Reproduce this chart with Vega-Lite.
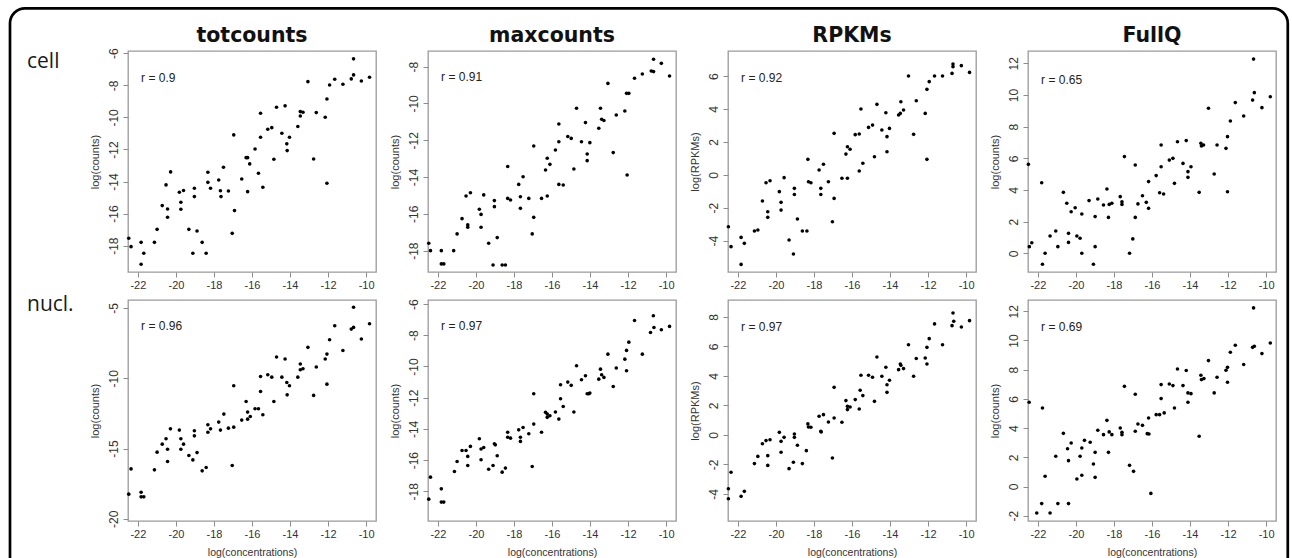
{
"$schema": "https://vega.github.io/schema/vega-lite/v6.json",
"background": "white",
"padding": {"left": 8, "top": 6, "right": 2, "bottom": 0},
"bounds": "flush",
"columns": 5,
"spacing": {"row": 28, "column": 52},
"config": {
 "view": {"stroke": "#9a9a9a", "strokeWidth": 1.3},
 "axis": {"domain": false, "grid": false, "ticks": true, "tickColor": "#8c8c8c", "tickSize": 5, "tickWidth": 1, "tickCount": 20, "labelFont": "Liberation Sans", "labelColor": "#333", "titleFont": "Liberation Sans", "titleFontWeight": "normal", "titleColor": "#333", "labelFlush": false, "labelOverlap": false},
 "axisX": {"labelFontSize": 11, "labelPadding": 2, "titleFontSize": 10.5, "titlePadding": 8, "labelOverlap": false},
 "axisY": {"labelAngle": 270, "labelAlign": "center", "labelBaseline": "bottom", "labelFontSize": 12, "labelPadding": 3, "titleFontSize": 11, "titlePadding": 8, "minExtent": 20, "maxExtent": 20, "labelOverlap": false},
 "title": {"font": "DejaVu Sans", "fontSize": 20.5, "fontWeight": "bold", "color": "#111", "baseline": "alphabetic", "anchor": "middle"}
},
"datasets": {
"pts": [
{"p":1,"x":-22.48,"y":-17.54},{"p":1,"x":-22.36,"y":-18.06},{"p":1,"x":-21.83,"y":-17.79},{"p":1,"x":-21.83,"y":-19.16},{"p":1,"x":-21.69,"y":-18.47},{"p":1,"x":-21.13,"y":-17.79},{"p":1,"x":-20.99,"y":-16.98},{"p":1,"x":-20.72,"y":-15.5},{"p":1,"x":-20.52,"y":-14.21},{"p":1,"x":-20.44,"y":-15.71},{"p":1,"x":-20.44,"y":-16.23},{"p":1,"x":-20.28,"y":-13.4},{"p":1,"x":-19.82,"y":-14.67},{"p":1,"x":-19.74,"y":-15.29},{"p":1,"x":-19.74,"y":-15.73},{"p":1,"x":-19.6,"y":-14.56},{"p":1,"x":-19.32,"y":-16.98},{"p":1,"x":-19.11,"y":-18.47},{"p":1,"x":-19.03,"y":-14.42},{"p":1,"x":-19.03,"y":-14.94},{"p":1,"x":-18.89,"y":-17.08},{"p":1,"x":-18.62,"y":-17.79},{"p":1,"x":-18.41,"y":-18.47},{"p":1,"x":-18.32,"y":-13.42},{"p":1,"x":-18.32,"y":-14.05},{"p":1,"x":-18.18,"y":-14.42},{"p":1,"x":-17.75,"y":-13.9},{"p":1,"x":-17.66,"y":-14.57},{"p":1,"x":-17.63,"y":-14.94},{"p":1,"x":-17.5,"y":-13.11},{"p":1,"x":-17.24,"y":-14.59},{"p":1,"x":-17.04,"y":-17.23},{"p":1,"x":-16.96,"y":-11.09},{"p":1,"x":-16.92,"y":-15.81},{"p":1,"x":-16.54,"y":-13.84},{"p":1,"x":-16.31,"y":-12.51},{"p":1,"x":-16.23,"y":-12.51},{"p":1,"x":-16.23,"y":-14.63},{"p":1,"x":-16.12,"y":-12.9},{"p":1,"x":-15.84,"y":-11.97},{"p":1,"x":-15.66,"y":-13.48},{"p":1,"x":-15.55,"y":-9.74},{"p":1,"x":-15.55,"y":-11.24},{"p":1,"x":-15.43,"y":-14.36},{"p":1,"x":-15.17,"y":-10.74},{"p":1,"x":-14.96,"y":-10.64},{"p":1,"x":-14.85,"y":-12.61},{"p":1,"x":-14.71,"y":-9.37},{"p":1,"x":-14.43,"y":-10.99},{"p":1,"x":-14.26,"y":-9.28},{"p":1,"x":-14.17,"y":-11.65},{"p":1,"x":-14.15,"y":-12.07},{"p":1,"x":-14.03,"y":-11.24},{"p":1,"x":-13.59,"y":-10.57},{"p":1,"x":-13.46,"y":-9.64},{"p":1,"x":-13.46,"y":-9.91},{"p":1,"x":-13.32,"y":-9.68},{"p":1,"x":-13.06,"y":-7.77},{"p":1,"x":-12.76,"y":-12.59},{"p":1,"x":-12.62,"y":-9.7},{"p":1,"x":-12.15,"y":-9.99},{"p":1,"x":-12.06,"y":-8.85},{"p":1,"x":-12.06,"y":-14.11},{"p":1,"x":-11.92,"y":-7.98},{"p":1,"x":-11.65,"y":-7.62},{"p":1,"x":-11.22,"y":-7.93},{"p":1,"x":-10.78,"y":-7.6},{"p":1,"x":-10.66,"y":-7.35},{"p":1,"x":-10.66,"y":-6.35},{"p":1,"x":-10.25,"y":-7.73},{"p":1,"x":-9.82,"y":-7.5},
{"p":2,"x":-22.48,"y":-17.6},{"p":2,"x":-22.39,"y":-18.0},{"p":2,"x":-21.82,"y":-18.0},{"p":2,"x":-21.82,"y":-18.72},{"p":2,"x":-21.69,"y":-18.72},{"p":2,"x":-21.17,"y":-18.0},{"p":2,"x":-20.99,"y":-17.09},{"p":2,"x":-20.73,"y":-16.26},{"p":2,"x":-20.52,"y":-15.03},{"p":2,"x":-20.43,"y":-16.6},{"p":2,"x":-20.43,"y":-16.73},{"p":2,"x":-20.29,"y":-14.85},{"p":2,"x":-19.82,"y":-15.75},{"p":2,"x":-19.73,"y":-16.03},{"p":2,"x":-19.73,"y":-16.73},{"p":2,"x":-19.59,"y":-14.97},{"p":2,"x":-19.33,"y":-17.6},{"p":2,"x":-19.1,"y":-18.78},{"p":2,"x":-19.03,"y":-15.28},{"p":2,"x":-19.03,"y":-15.61},{"p":2,"x":-18.88,"y":-17.29},{"p":2,"x":-18.62,"y":-18.78},{"p":2,"x":-18.45,"y":-18.78},{"p":2,"x":-18.33,"y":-13.43},{"p":2,"x":-18.33,"y":-15.16},{"p":2,"x":-18.18,"y":-15.25},{"p":2,"x":-17.75,"y":-14.4},{"p":2,"x":-17.66,"y":-15.07},{"p":2,"x":-17.66,"y":-15.7},{"p":2,"x":-17.52,"y":-13.98},{"p":2,"x":-17.22,"y":-15.16},{"p":2,"x":-17.04,"y":-17.09},{"p":2,"x":-16.96,"y":-12.31},{"p":2,"x":-16.96,"y":-16.19},{"p":2,"x":-16.55,"y":-15.16},{"p":2,"x":-16.34,"y":-13.62},{"p":2,"x":-16.25,"y":-12.98},{"p":2,"x":-16.25,"y":-15.03},{"p":2,"x":-16.11,"y":-13.31},{"p":2,"x":-15.82,"y":-12.53},{"p":2,"x":-15.64,"y":-11.12},{"p":2,"x":-15.64,"y":-12.08},{"p":2,"x":-15.64,"y":-14.4},{"p":2,"x":-15.41,"y":-14.43},{"p":2,"x":-15.17,"y":-11.8},{"p":2,"x":-14.99,"y":-11.9},{"p":2,"x":-14.85,"y":-13.56},{"p":2,"x":-14.71,"y":-10.26},{"p":2,"x":-14.45,"y":-12.08},{"p":2,"x":-14.24,"y":-11.04},{"p":2,"x":-14.15,"y":-12.75},{"p":2,"x":-14.15,"y":-13.11},{"p":2,"x":-14.01,"y":-12.13},{"p":2,"x":-13.54,"y":-11.35},{"p":2,"x":-13.45,"y":-10.26},{"p":2,"x":-13.39,"y":-10.86},{"p":2,"x":-13.27,"y":-10.93},{"p":2,"x":-13.06,"y":-8.91},{"p":2,"x":-12.78,"y":-12.67},{"p":2,"x":-12.62,"y":-10.63},{"p":2,"x":-12.17,"y":-10.41},{"p":2,"x":-12.08,"y":-9.45},{"p":2,"x":-11.96,"y":-9.45},{"p":2,"x":-12.05,"y":-13.89},{"p":2,"x":-11.66,"y":-8.63},{"p":2,"x":-11.25,"y":-8.4},{"p":2,"x":-10.78,"y":-8.24},{"p":2,"x":-10.66,"y":-8.27},{"p":2,"x":-10.66,"y":-7.6},{"p":2,"x":-10.25,"y":-7.82},{"p":2,"x":-9.82,"y":-8.51},
{"p":3,"x":-22.5,"y":-3.15},{"p":3,"x":-22.36,"y":-4.36},{"p":3,"x":-21.83,"y":-3.8},{"p":3,"x":-21.83,"y":-5.44},{"p":3,"x":-21.66,"y":-4.16},{"p":3,"x":-21.13,"y":-3.41},{"p":3,"x":-20.95,"y":-3.35},{"p":3,"x":-20.71,"y":-1.59},{"p":3,"x":-20.52,"y":-0.48},{"p":3,"x":-20.43,"y":-2.24},{"p":3,"x":-20.43,"y":-2.58},{"p":3,"x":-20.31,"y":-0.36},{"p":3,"x":-19.82,"y":-1.02},{"p":3,"x":-19.73,"y":-1.67},{"p":3,"x":-19.73,"y":-2.14},{"p":3,"x":-19.57,"y":-0.17},{"p":3,"x":-19.31,"y":-3.96},{"p":3,"x":-19.08,"y":-4.81},{"p":3,"x":-19.03,"y":-0.82},{"p":3,"x":-19.03,"y":-1.19},{"p":3,"x":-18.87,"y":-2.68},{"p":3,"x":-18.61,"y":-3.41},{"p":3,"x":-18.37,"y":-3.41},{"p":3,"x":-18.32,"y":0.94},{"p":3,"x":-18.29,"y":-0.42},{"p":3,"x":-18.16,"y":-0.48},{"p":3,"x":-17.73,"y":0.29},{"p":3,"x":-17.64,"y":-0.82},{"p":3,"x":-17.64,"y":-1.19},{"p":3,"x":-17.5,"y":0.64},{"p":3,"x":-17.24,"y":-0.42},{"p":3,"x":-17.03,"y":-2.85},{"p":3,"x":-16.94,"y":2.52},{"p":3,"x":-16.94,"y":-1.43},{"p":3,"x":-16.53,"y":-0.21},{"p":3,"x":-16.32,"y":1.26},{"p":3,"x":-16.24,"y":1.71},{"p":3,"x":-16.24,"y":-0.21},{"p":3,"x":-16.1,"y":1.55},{"p":3,"x":-15.83,"y":2.44},{"p":3,"x":-15.62,"y":2.48},{"p":3,"x":-15.62,"y":0.23},{"p":3,"x":-15.53,"y":4.0},{"p":3,"x":-15.43,"y":0.7},{"p":3,"x":-15.13,"y":2.88},{"p":3,"x":-14.92,"y":3.02},{"p":3,"x":-14.82,"y":1.1},{"p":3,"x":-14.69,"y":4.28},{"p":3,"x":-14.43,"y":2.72},{"p":3,"x":-14.22,"y":3.77},{"p":3,"x":-14.16,"y":2.32},{"p":3,"x":-14.16,"y":1.4},{"p":3,"x":-14.03,"y":2.82},{"p":3,"x":-13.55,"y":3.63},{"p":3,"x":-13.46,"y":3.73},{"p":3,"x":-13.43,"y":4.44},{"p":3,"x":-13.29,"y":3.94},{"p":3,"x":-13.03,"y":6.0},{"p":3,"x":-12.76,"y":2.46},{"p":3,"x":-12.62,"y":4.5},{"p":3,"x":-12.15,"y":3.73},{"p":3,"x":-12.06,"y":5.19},{"p":3,"x":-12.06,"y":0.94},{"p":3,"x":-11.94,"y":5.66},{"p":3,"x":-11.66,"y":6.0},{"p":3,"x":-11.24,"y":6.0},{"p":3,"x":-10.74,"y":6.16},{"p":3,"x":-10.69,"y":6.73},{"p":3,"x":-10.69,"y":6.57},{"p":3,"x":-10.25,"y":6.63},{"p":3,"x":-9.82,"y":6.22},
{"p":4,"x":-22.5,"y":5.62},{"p":4,"x":-22.45,"y":0.42},{"p":4,"x":-22.32,"y":0.67},{"p":4,"x":-21.8,"y":4.46},{"p":4,"x":-21.76,"y":-0.69},{"p":4,"x":-21.62,"y":0.0},{"p":4,"x":-21.36,"y":1.09},{"p":4,"x":-21.06,"y":1.41},{"p":4,"x":-20.95,"y":0.42},{"p":4,"x":-20.66,"y":3.85},{"p":4,"x":-20.48,"y":3.16},{"p":4,"x":-20.39,"y":1.26},{"p":4,"x":-20.39,"y":0.69},{"p":4,"x":-20.25,"y":2.63},{"p":4,"x":-20.04,"y":2.88},{"p":4,"x":-19.95,"y":1.09},{"p":4,"x":-19.78,"y":0.95},{"p":4,"x":-19.69,"y":2.48},{"p":4,"x":-19.69,"y":0.0},{"p":4,"x":-19.31,"y":3.33},{"p":4,"x":-19.08,"y":-0.69},{"p":4,"x":-18.99,"y":2.32},{"p":4,"x":-18.99,"y":0.42},{"p":4,"x":-18.85,"y":3.43},{"p":4,"x":-18.55,"y":3.05},{"p":4,"x":-18.37,"y":4.06},{"p":4,"x":-18.29,"y":2.27},{"p":4,"x":-18.25,"y":3.09},{"p":4,"x":-18.11,"y":3.16},{"p":4,"x":-17.67,"y":3.58},{"p":4,"x":-17.58,"y":3.26},{"p":4,"x":-17.58,"y":3.09},{"p":4,"x":-17.45,"y":6.11},{"p":4,"x":-17.18,"y":0.0},{"p":4,"x":-17.01,"y":0.91},{"p":4,"x":-16.88,"y":5.58},{"p":4,"x":-16.88,"y":2.27},{"p":4,"x":-16.74,"y":3.12},{"p":4,"x":-16.5,"y":3.64},{"p":4,"x":-16.3,"y":3.22},{"p":4,"x":-16.18,"y":2.84},{"p":4,"x":-16.18,"y":4.53},{"p":4,"x":-15.78,"y":4.91},{"p":4,"x":-15.6,"y":3.83},{"p":4,"x":-15.52,"y":5.47},{"p":4,"x":-15.52,"y":6.84},{"p":4,"x":-15.39,"y":3.75},{"p":4,"x":-15.09,"y":5.89},{"p":4,"x":-14.9,"y":6.0},{"p":4,"x":-14.82,"y":4.42},{"p":4,"x":-14.66,"y":7.05},{"p":4,"x":-14.37,"y":5.68},{"p":4,"x":-14.2,"y":7.12},{"p":4,"x":-14.11,"y":5.16},{"p":4,"x":-14.11,"y":4.8},{"p":4,"x":-13.95,"y":5.47},{"p":4,"x":-13.52,"y":3.85},{"p":4,"x":-13.43,"y":6.95},{"p":4,"x":-13.4,"y":6.78},{"p":4,"x":-13.29,"y":6.84},{"p":4,"x":-13.03,"y":9.16},{"p":4,"x":-12.73,"y":5.01},{"p":4,"x":-12.58,"y":6.84},{"p":4,"x":-12.11,"y":6.63},{"p":4,"x":-12.03,"y":7.37},{"p":4,"x":-12.03,"y":3.89},{"p":4,"x":-11.88,"y":8.36},{"p":4,"x":-11.62,"y":9.52},{"p":4,"x":-11.18,"y":8.67},{"p":4,"x":-10.71,"y":9.68},{"p":4,"x":-10.66,"y":12.27},{"p":4,"x":-10.62,"y":10.15},{"p":4,"x":-10.22,"y":9.2},{"p":4,"x":-9.78,"y":9.89},
{"p":5,"x":-22.48,"y":-18.25},{"p":5,"x":-22.36,"y":-16.45},{"p":5,"x":-21.83,"y":-18.11},{"p":5,"x":-21.83,"y":-18.44},{"p":5,"x":-21.69,"y":-18.44},{"p":5,"x":-21.13,"y":-16.52},{"p":5,"x":-20.99,"y":-15.26},{"p":5,"x":-20.72,"y":-14.69},{"p":5,"x":-20.52,"y":-14.31},{"p":5,"x":-20.44,"y":-15.05},{"p":5,"x":-20.44,"y":-15.93},{"p":5,"x":-20.29,"y":-13.6},{"p":5,"x":-19.82,"y":-13.69},{"p":5,"x":-19.74,"y":-14.31},{"p":5,"x":-19.74,"y":-15.05},{"p":5,"x":-19.6,"y":-14.69},{"p":5,"x":-19.32,"y":-15.5},{"p":5,"x":-19.11,"y":-15.81},{"p":5,"x":-19.03,"y":-13.74},{"p":5,"x":-19.03,"y":-14.1},{"p":5,"x":-18.89,"y":-15.29},{"p":5,"x":-18.62,"y":-16.59},{"p":5,"x":-18.41,"y":-16.35},{"p":5,"x":-18.32,"y":-13.31},{"p":5,"x":-18.32,"y":-13.84},{"p":5,"x":-18.18,"y":-13.6},{"p":5,"x":-17.75,"y":-13.12},{"p":5,"x":-17.66,"y":-13.69},{"p":5,"x":-17.48,"y":-12.55},{"p":5,"x":-17.24,"y":-13.55},{"p":5,"x":-17.04,"y":-16.21},{"p":5,"x":-16.96,"y":-10.53},{"p":5,"x":-16.96,"y":-13.48},{"p":5,"x":-16.54,"y":-12.98},{"p":5,"x":-16.31,"y":-11.65},{"p":5,"x":-16.23,"y":-12.41},{"p":5,"x":-16.23,"y":-12.91},{"p":5,"x":-16.09,"y":-12.72},{"p":5,"x":-15.84,"y":-12.17},{"p":5,"x":-15.66,"y":-12.17},{"p":5,"x":-15.55,"y":-9.87},{"p":5,"x":-15.55,"y":-10.94},{"p":5,"x":-15.43,"y":-12.6},{"p":5,"x":-15.17,"y":-9.75},{"p":5,"x":-14.96,"y":-9.92},{"p":5,"x":-14.85,"y":-11.65},{"p":5,"x":-14.71,"y":-8.49},{"p":5,"x":-14.43,"y":-9.92},{"p":5,"x":-14.26,"y":-8.63},{"p":5,"x":-14.17,"y":-10.3},{"p":5,"x":-14.15,"y":-11.18},{"p":5,"x":-14.03,"y":-10.53},{"p":5,"x":-13.59,"y":-9.92},{"p":5,"x":-13.46,"y":-8.99},{"p":5,"x":-13.46,"y":-9.39},{"p":5,"x":-13.32,"y":-9.32},{"p":5,"x":-13.06,"y":-7.8},{"p":5,"x":-12.76,"y":-11.22},{"p":5,"x":-12.62,"y":-9.2},{"p":5,"x":-12.15,"y":-8.63},{"p":5,"x":-12.06,"y":-8.28},{"p":5,"x":-12.06,"y":-10.42},{"p":5,"x":-11.92,"y":-7.26},{"p":5,"x":-11.65,"y":-6.26},{"p":5,"x":-11.22,"y":-8.02},{"p":5,"x":-10.78,"y":-6.5},{"p":5,"x":-10.66,"y":-6.38},{"p":5,"x":-10.66,"y":-4.95},{"p":5,"x":-10.25,"y":-7.21},{"p":5,"x":-9.82,"y":-6.12},
{"p":6,"x":-22.48,"y":-18.5},{"p":6,"x":-22.39,"y":-17.09},{"p":6,"x":-21.82,"y":-17.84},{"p":6,"x":-21.82,"y":-18.69},{"p":6,"x":-21.69,"y":-18.69},{"p":6,"x":-21.13,"y":-16.73},{"p":6,"x":-20.99,"y":-16.09},{"p":6,"x":-20.73,"y":-15.38},{"p":6,"x":-20.52,"y":-15.38},{"p":6,"x":-20.43,"y":-15.76},{"p":6,"x":-20.43,"y":-16.34},{"p":6,"x":-20.29,"y":-15.12},{"p":6,"x":-19.82,"y":-14.63},{"p":6,"x":-19.73,"y":-15.98},{"p":6,"x":-19.73,"y":-15.29},{"p":6,"x":-19.59,"y":-15.19},{"p":6,"x":-19.33,"y":-16.58},{"p":6,"x":-19.1,"y":-16.34},{"p":6,"x":-19.03,"y":-14.95},{"p":6,"x":-18.98,"y":-15.02},{"p":6,"x":-18.88,"y":-15.72},{"p":6,"x":-18.62,"y":-16.77},{"p":6,"x":-18.45,"y":-16.51},{"p":6,"x":-18.33,"y":-14.21},{"p":6,"x":-18.33,"y":-14.53},{"p":6,"x":-18.18,"y":-14.59},{"p":6,"x":-17.75,"y":-14.06},{"p":6,"x":-17.66,"y":-14.53},{"p":6,"x":-17.66,"y":-14.8},{"p":6,"x":-17.52,"y":-13.91},{"p":6,"x":-17.22,"y":-14.31},{"p":6,"x":-17.04,"y":-16.41},{"p":6,"x":-16.96,"y":-11.75},{"p":6,"x":-16.96,"y":-13.69},{"p":6,"x":-16.55,"y":-14.21},{"p":6,"x":-16.34,"y":-12.94},{"p":6,"x":-16.25,"y":-13.26},{"p":6,"x":-16.25,"y":-13.05},{"p":6,"x":-16.11,"y":-13.16},{"p":6,"x":-15.82,"y":-12.92},{"p":6,"x":-15.64,"y":-13.37},{"p":6,"x":-15.55,"y":-11.17},{"p":6,"x":-15.55,"y":-12.07},{"p":6,"x":-15.41,"y":-12.56},{"p":6,"x":-15.17,"y":-11.0},{"p":6,"x":-14.99,"y":-11.21},{"p":6,"x":-14.85,"y":-12.92},{"p":6,"x":-14.71,"y":-9.95},{"p":6,"x":-14.45,"y":-10.85},{"p":6,"x":-14.24,"y":-10.59},{"p":6,"x":-14.15,"y":-11.75},{"p":6,"x":-14.06,"y":-11.75},{"p":6,"x":-14.01,"y":-11.7},{"p":6,"x":-13.54,"y":-10.81},{"p":6,"x":-13.45,"y":-10.17},{"p":6,"x":-13.39,"y":-10.53},{"p":6,"x":-13.27,"y":-10.7},{"p":6,"x":-13.06,"y":-9.21},{"p":6,"x":-12.78,"y":-11.28},{"p":6,"x":-12.62,"y":-10.1},{"p":6,"x":-12.17,"y":-9.53},{"p":6,"x":-12.08,"y":-8.97},{"p":6,"x":-12.08,"y":-10.27},{"p":6,"x":-11.96,"y":-8.44},{"p":6,"x":-11.66,"y":-7.05},{"p":6,"x":-11.25,"y":-9.21},{"p":6,"x":-10.82,"y":-7.82},{"p":6,"x":-10.64,"y":-7.5},{"p":6,"x":-10.67,"y":-6.75},{"p":6,"x":-10.25,"y":-7.65},{"p":6,"x":-9.82,"y":-7.43},
{"p":7,"x":-22.5,"y":-3.64},{"p":7,"x":-22.5,"y":-4.32},{"p":7,"x":-22.36,"y":-2.53},{"p":7,"x":-21.83,"y":-4.16},{"p":7,"x":-21.66,"y":-3.82},{"p":7,"x":-21.13,"y":-1.94},{"p":7,"x":-20.95,"y":-1.45},{"p":7,"x":-20.71,"y":-0.59},{"p":7,"x":-20.52,"y":-0.38},{"p":7,"x":-20.43,"y":-1.4},{"p":7,"x":-20.43,"y":-2.06},{"p":7,"x":-20.31,"y":-0.32},{"p":7,"x":-19.82,"y":0.18},{"p":7,"x":-19.73,"y":-0.43},{"p":7,"x":-19.73,"y":-1.17},{"p":7,"x":-19.57,"y":-0.16},{"p":7,"x":-19.31,"y":-2.28},{"p":7,"x":-19.08,"y":-1.85},{"p":7,"x":-19.03,"y":0.07},{"p":7,"x":-19.03,"y":-0.16},{"p":7,"x":-18.87,"y":-0.7},{"p":7,"x":-18.61,"y":-1.94},{"p":7,"x":-18.4,"y":-1.06},{"p":7,"x":-18.32,"y":0.75},{"p":7,"x":-18.29,"y":0.54},{"p":7,"x":-18.16,"y":0.52},{"p":7,"x":-17.73,"y":1.27},{"p":7,"x":-17.64,"y":0.25},{"p":7,"x":-17.62,"y":0.2},{"p":7,"x":-17.5,"y":1.38},{"p":7,"x":-17.24,"y":0.88},{"p":7,"x":-17.03,"y":-1.56},{"p":7,"x":-16.94,"y":3.23},{"p":7,"x":-16.94,"y":1.15},{"p":7,"x":-16.53,"y":0.86},{"p":7,"x":-16.32,"y":2.33},{"p":7,"x":-16.24,"y":1.94},{"p":7,"x":-16.24,"y":1.72},{"p":7,"x":-16.1,"y":1.9},{"p":7,"x":-15.83,"y":2.4},{"p":7,"x":-15.62,"y":1.76},{"p":7,"x":-15.57,"y":3.03},{"p":7,"x":-15.53,"y":4.05},{"p":7,"x":-15.43,"y":2.67},{"p":7,"x":-15.13,"y":4.05},{"p":7,"x":-14.92,"y":3.91},{"p":7,"x":-14.82,"y":2.28},{"p":7,"x":-14.69,"y":5.29},{"p":7,"x":-14.43,"y":3.98},{"p":7,"x":-14.22,"y":4.59},{"p":7,"x":-14.16,"y":3.41},{"p":7,"x":-14.16,"y":2.89},{"p":7,"x":-14.03,"y":3.71},{"p":7,"x":-13.55,"y":4.43},{"p":7,"x":-13.46,"y":4.81},{"p":7,"x":-13.43,"y":4.72},{"p":7,"x":-13.29,"y":4.5},{"p":7,"x":-13.03,"y":6.12},{"p":7,"x":-12.76,"y":3.98},{"p":7,"x":-12.62,"y":5.18},{"p":7,"x":-12.15,"y":5.22},{"p":7,"x":-12.06,"y":4.81},{"p":7,"x":-12.06,"y":5.94},{"p":7,"x":-11.94,"y":6.53},{"p":7,"x":-11.66,"y":7.53},{"p":7,"x":-11.24,"y":6.12},{"p":7,"x":-10.74,"y":7.41},{"p":7,"x":-10.69,"y":8.27},{"p":7,"x":-10.65,"y":7.71},{"p":7,"x":-10.25,"y":7.32},{"p":7,"x":-9.82,"y":7.75},
{"p":8,"x":-22.46,"y":5.77},{"p":8,"x":-22.06,"y":-1.81},{"p":8,"x":-21.8,"y":-1.17},{"p":8,"x":-21.76,"y":5.38},{"p":8,"x":-21.62,"y":0.7},{"p":8,"x":-21.36,"y":-1.81},{"p":8,"x":-21.06,"y":2.07},{"p":8,"x":-20.95,"y":-1.17},{"p":8,"x":-20.66,"y":3.64},{"p":8,"x":-20.44,"y":2.59},{"p":8,"x":-20.39,"y":1.77},{"p":8,"x":-20.39,"y":-1.17},{"p":8,"x":-20.25,"y":2.98},{"p":8,"x":-19.95,"y":0.52},{"p":8,"x":-19.78,"y":2.07},{"p":8,"x":-19.69,"y":2.64},{"p":8,"x":-19.69,"y":0.77},{"p":8,"x":-19.55,"y":3.16},{"p":8,"x":-19.25,"y":3.03},{"p":8,"x":-19.08,"y":1.54},{"p":8,"x":-18.99,"y":2.34},{"p":8,"x":-18.99,"y":0.63},{"p":8,"x":-18.85,"y":3.85},{"p":8,"x":-18.55,"y":3.55},{"p":8,"x":-18.37,"y":4.53},{"p":8,"x":-18.29,"y":2.34},{"p":8,"x":-18.25,"y":3.74},{"p":8,"x":-18.11,"y":3.55},{"p":8,"x":-17.67,"y":4.01},{"p":8,"x":-17.58,"y":3.71},{"p":8,"x":-17.58,"y":3.55},{"p":8,"x":-17.45,"y":6.86},{"p":8,"x":-17.18,"y":1.45},{"p":8,"x":-16.97,"y":1.04},{"p":8,"x":-16.88,"y":6.32},{"p":8,"x":-16.88,"y":3.78},{"p":8,"x":-16.74,"y":4.28},{"p":8,"x":-16.5,"y":4.19},{"p":8,"x":-16.25,"y":3.62},{"p":8,"x":-16.16,"y":3.6},{"p":8,"x":-16.18,"y":4.69},{"p":8,"x":-16.06,"y":-0.47},{"p":8,"x":-15.78,"y":4.92},{"p":8,"x":-15.6,"y":4.92},{"p":8,"x":-15.52,"y":6.02},{"p":8,"x":-15.52,"y":6.98},{"p":8,"x":-15.36,"y":5.04},{"p":8,"x":-15.09,"y":7.02},{"p":8,"x":-14.9,"y":6.91},{"p":8,"x":-14.82,"y":5.38},{"p":8,"x":-14.66,"y":8.05},{"p":8,"x":-14.37,"y":6.91},{"p":8,"x":-14.2,"y":7.94},{"p":8,"x":-14.11,"y":6.41},{"p":8,"x":-14.11,"y":5.77},{"p":8,"x":-13.95,"y":6.36},{"p":8,"x":-13.52,"y":3.44},{"p":8,"x":-13.43,"y":7.62},{"p":8,"x":-13.4,"y":7.32},{"p":8,"x":-13.27,"y":7.39},{"p":8,"x":-13.03,"y":8.62},{"p":8,"x":-12.73,"y":6.41},{"p":8,"x":-12.58,"y":7.48},{"p":8,"x":-12.11,"y":7.96},{"p":8,"x":-12.03,"y":8.16},{"p":8,"x":-12.03,"y":7.14},{"p":8,"x":-11.88,"y":9.19},{"p":8,"x":-11.62,"y":9.67},{"p":8,"x":-11.18,"y":8.35},{"p":8,"x":-10.71,"y":9.53},{"p":8,"x":-10.66,"y":12.23},{"p":8,"x":-10.62,"y":9.6},{"p":8,"x":-10.22,"y":9.1},{"p":8,"x":-9.78,"y":9.83}
]
},
"concat": [
{
 "width": 49, "height": 221, "view": {"stroke": null},
 "data": {"values": [{"label": "cell"}]},
 "layer": [
  {"mark": {"type": "rect", "filled": false, "color": "black", "strokeWidth": 2.7, "cornerRadius": 15, "opacity": 1},
   "encoding": {"x": {"datum": -0.347, "type": "quantitative", "scale": {"domain": [0, 1], "nice": false, "zero": false}, "axis": null}, "x2": {"datum": 25.73}, "y": {"datum": 1.193, "type": "quantitative", "scale": {"domain": [0, 1], "nice": false, "zero": false}, "axis": null}, "y2": {"datum": -1.6}}},
  {"mark": {"type": "text", "align": "left", "baseline": "alphabetic", "font": "Open Sans", "fontSize": 21, "color": "#1a1a1a"},
   "encoding": {"x": {"datum": 0, "type": "quantitative"}, "y": {"datum": 0.922, "type": "quantitative"}, "text": {"field": "label"}}}
 ]
},
{
 "width": 248, "height": 221,
 "title": {"text": "totcounts", "offset": 1.5},
 "layer": [
  {"data": {"name": "pts"}, "transform": [{"filter": "datum.p == 1"}], "mark": {"type": "circle", "size": 13, "color": "black", "opacity": 1},
   "encoding": {"x": {"field": "x", "type": "quantitative", "scale": {"domain": [-22.52, -9.48], "nice": false, "zero": false}, "axis": {"values": [-22, -20, -18, -16, -14, -12, -10], "tickCount": 20, "labelExpr": "toString(datum.value)", "title": null, "labelOverlap": false}},
    "y": {"field": "y", "type": "quantitative", "scale": {"domain": [-19.64, -5.86], "nice": false, "zero": false}, "axis": {"values": [-18, -16, -14, -12, -10, -8, -6], "tickCount": 20, "labelExpr": "toString(datum.value)", "title": "log(counts)", "labelOverlap": false}}}},
  {"data": {"values": [{"label": "r = 0.9"}]}, "mark": {"type": "text", "align": "left", "baseline": "middle", "font": "Liberation Sans", "fontSize": 12, "color": "#222"},
   "encoding": {"x": {"datum": -21.83, "type": "quantitative"}, "y": {"datum": -7.56, "type": "quantitative"}, "text": {"field": "label"}}}
 ]
},
{
 "width": 248, "height": 221,
 "title": {"text": "maxcounts", "offset": 4.5},
 "layer": [
  {"data": {"name": "pts"}, "transform": [{"filter": "datum.p == 2"}], "mark": {"type": "circle", "size": 13, "color": "black", "opacity": 1},
   "encoding": {"x": {"field": "x", "type": "quantitative", "scale": {"domain": [-22.52, -9.48], "nice": false, "zero": false}, "axis": {"values": [-22, -20, -18, -16, -14, -12, -10], "tickCount": 20, "labelExpr": "toString(datum.value)", "title": null, "labelOverlap": false}},
    "y": {"field": "y", "type": "quantitative", "scale": {"domain": [-19.16, -7.15], "nice": false, "zero": false}, "axis": {"values": [-18, -16, -14, -12, -10, -8], "tickCount": 20, "labelExpr": "toString(datum.value)", "title": "log(counts)", "labelOverlap": false}}}},
  {"data": {"values": [{"label": "r = 0.91"}]}, "mark": {"type": "text", "align": "left", "baseline": "middle", "font": "Liberation Sans", "fontSize": 12, "color": "#222"},
   "encoding": {"x": {"datum": -21.83, "type": "quantitative"}, "y": {"datum": -8.58, "type": "quantitative"}, "text": {"field": "label"}}}
 ]
},
{
 "width": 248, "height": 221,
 "title": {"text": "RPKMs", "offset": 4.5},
 "layer": [
  {"data": {"name": "pts"}, "transform": [{"filter": "datum.p == 3"}], "mark": {"type": "circle", "size": 13, "color": "black", "opacity": 1},
   "encoding": {"x": {"field": "x", "type": "quantitative", "scale": {"domain": [-22.52, -9.48], "nice": false, "zero": false}, "axis": {"values": [-22, -20, -18, -16, -14, -12, -10], "tickCount": 20, "labelExpr": "toString(datum.value)", "title": null, "labelOverlap": false}},
    "y": {"field": "y", "type": "quantitative", "scale": {"domain": [-5.9, 7.52], "nice": false, "zero": false}, "axis": {"values": [-4, -2, 0, 2, 4, 6], "tickCount": 20, "labelExpr": "toString(datum.value)", "title": "log(RPKMs)", "labelOverlap": false}}}},
  {"data": {"values": [{"label": "r = 0.92"}]}, "mark": {"type": "text", "align": "left", "baseline": "middle", "font": "Liberation Sans", "fontSize": 12, "color": "#222"},
   "encoding": {"x": {"datum": -21.83, "type": "quantitative"}, "y": {"datum": 5.9, "type": "quantitative"}, "text": {"field": "label"}}}
 ]
},
{
 "width": 248, "height": 221,
 "title": {"text": "FullQ", "offset": 4.5},
 "layer": [
  {"data": {"name": "pts"}, "transform": [{"filter": "datum.p == 4"}], "mark": {"type": "circle", "size": 13, "color": "black", "opacity": 1},
   "encoding": {"x": {"field": "x", "type": "quantitative", "scale": {"domain": [-22.52, -9.48], "nice": false, "zero": false}, "axis": {"values": [-22, -20, -18, -16, -14, -12, -10], "tickCount": 20, "labelExpr": "toString(datum.value)", "title": null, "labelOverlap": false}},
    "y": {"field": "y", "type": "quantitative", "scale": {"domain": [-1.18, 12.78], "nice": false, "zero": false}, "axis": {"values": [0, 2, 4, 6, 8, 10, 12], "tickCount": 20, "labelExpr": "toString(datum.value)", "title": "log(counts)", "labelOverlap": false}}}},
  {"data": {"values": [{"label": "r = 0.65"}]}, "mark": {"type": "text", "align": "left", "baseline": "middle", "font": "Liberation Sans", "fontSize": 12, "color": "#222"},
   "encoding": {"x": {"datum": -21.83, "type": "quantitative"}, "y": {"datum": 10.95, "type": "quantitative"}, "text": {"field": "label"}}}
 ]
},
{
 "width": 49, "height": 221, "view": {"stroke": null},
 "data": {"values": [{"label": "nucl."}]},
 "mark": {"type": "text", "align": "left", "baseline": "alphabetic", "font": "Open Sans", "fontSize": 21, "color": "#1a1a1a"},
 "encoding": {"x": {"datum": 0, "type": "quantitative", "scale": {"domain": [0, 1], "nice": false, "zero": false}, "axis": null}, "y": {"datum": 0.949, "type": "quantitative", "scale": {"domain": [0, 1], "nice": false, "zero": false}, "axis": null}, "text": {"field": "label"}}
},
{
 "width": 248, "height": 221,
 "layer": [
  {"data": {"name": "pts"}, "transform": [{"filter": "datum.p == 5"}], "mark": {"type": "circle", "size": 13, "color": "black", "opacity": 1},
   "encoding": {"x": {"field": "x", "type": "quantitative", "scale": {"domain": [-22.52, -9.48], "nice": false, "zero": false}, "axis": {"values": [-22, -20, -18, -16, -14, -12, -10], "tickCount": 20, "labelExpr": "toString(datum.value)", "title": "log(concentrations)", "labelOverlap": false}},
    "y": {"field": "y", "type": "quantitative", "scale": {"domain": [-20.16, -4.43], "nice": false, "zero": false}, "axis": {"values": [-20, -15, -10, -5], "tickCount": 20, "labelExpr": "toString(datum.value)", "title": "log(counts)", "labelOverlap": false}}}},
  {"data": {"values": [{"label": "r = 0.96"}]}, "mark": {"type": "text", "align": "left", "baseline": "middle", "font": "Liberation Sans", "fontSize": 12, "color": "#222"},
   "encoding": {"x": {"datum": -21.83, "type": "quantitative"}, "y": {"datum": -6.3, "type": "quantitative"}, "text": {"field": "label"}}}
 ]
},
{
 "width": 248, "height": 221,
 "layer": [
  {"data": {"name": "pts"}, "transform": [{"filter": "datum.p == 6"}], "mark": {"type": "circle", "size": 13, "color": "black", "opacity": 1},
   "encoding": {"x": {"field": "x", "type": "quantitative", "scale": {"domain": [-22.52, -9.48], "nice": false, "zero": false}, "axis": {"values": [-22, -20, -18, -16, -14, -12, -10], "tickCount": 20, "labelExpr": "toString(datum.value)", "title": "log(concentrations)", "labelOverlap": false}},
    "y": {"field": "y", "type": "quantitative", "scale": {"domain": [-19.9, -5.74], "nice": false, "zero": false}, "axis": {"values": [-18, -16, -14, -12, -10, -8, -6], "tickCount": 20, "labelExpr": "toString(datum.value)", "title": "log(counts)", "labelOverlap": false}}}},
  {"data": {"values": [{"label": "r = 0.97"}]}, "mark": {"type": "text", "align": "left", "baseline": "middle", "font": "Liberation Sans", "fontSize": 12, "color": "#222"},
   "encoding": {"x": {"datum": -21.83, "type": "quantitative"}, "y": {"datum": -7.43, "type": "quantitative"}, "text": {"field": "label"}}}
 ]
},
{
 "width": 248, "height": 221,
 "layer": [
  {"data": {"name": "pts"}, "transform": [{"filter": "datum.p == 7"}], "mark": {"type": "circle", "size": 13, "color": "black", "opacity": 1},
   "encoding": {"x": {"field": "x", "type": "quantitative", "scale": {"domain": [-22.52, -9.48], "nice": false, "zero": false}, "axis": {"values": [-22, -20, -18, -16, -14, -12, -10], "tickCount": 20, "labelExpr": "toString(datum.value)", "title": "log(concentrations)", "labelOverlap": false}},
    "y": {"field": "y", "type": "quantitative", "scale": {"domain": [-5.83, 9.15], "nice": false, "zero": false}, "axis": {"values": [-4, -2, 0, 2, 4, 6, 8], "tickCount": 20, "labelExpr": "toString(datum.value)", "title": "log(RPKMs)", "labelOverlap": false}}}},
  {"data": {"values": [{"label": "r = 0.97"}]}, "mark": {"type": "text", "align": "left", "baseline": "middle", "font": "Liberation Sans", "fontSize": 12, "color": "#222"},
   "encoding": {"x": {"datum": -21.83, "type": "quantitative"}, "y": {"datum": 7.32, "type": "quantitative"}, "text": {"field": "label"}}}
 ]
},
{
 "width": 248, "height": 221,
 "layer": [
  {"data": {"name": "pts"}, "transform": [{"filter": "datum.p == 8"}], "mark": {"type": "circle", "size": 13, "color": "black", "opacity": 1},
   "encoding": {"x": {"field": "x", "type": "quantitative", "scale": {"domain": [-22.52, -9.48], "nice": false, "zero": false}, "axis": {"values": [-22, -20, -18, -16, -14, -12, -10], "tickCount": 20, "labelExpr": "toString(datum.value)", "title": "log(concentrations)", "labelOverlap": false}},
    "y": {"field": "y", "type": "quantitative", "scale": {"domain": [-2.36, 12.77], "nice": false, "zero": false}, "axis": {"values": [-2, 0, 2, 4, 6, 8, 10, 12], "tickCount": 20, "labelExpr": "toString(datum.value)", "title": "log(counts)", "labelOverlap": false}}}},
  {"data": {"values": [{"label": "r = 0.69"}]}, "mark": {"type": "text", "align": "left", "baseline": "middle", "font": "Liberation Sans", "fontSize": 12, "color": "#222"},
   "encoding": {"x": {"datum": -21.83, "type": "quantitative"}, "y": {"datum": 10.92, "type": "quantitative"}, "text": {"field": "label"}}}
 ]
}
]
}
